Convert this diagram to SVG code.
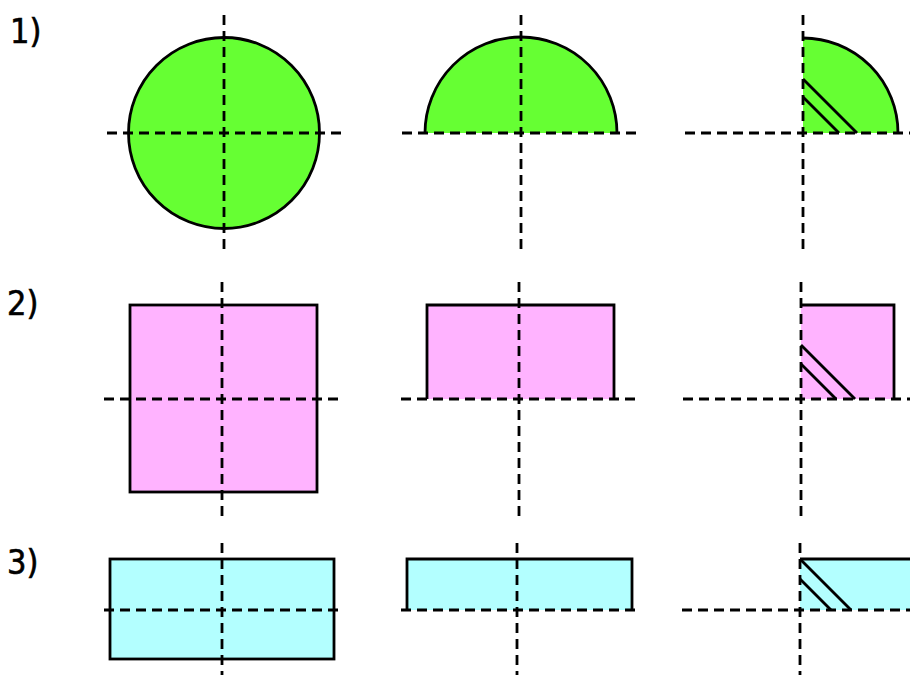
<svg xmlns="http://www.w3.org/2000/svg" width="910" height="675" viewBox="0 0 910 675">
<style>
.lbl{font-family:"DejaVu Sans Condensed","DejaVu Sans","Liberation Sans",sans-serif;font-size:34px;fill:#000;stroke:#000;stroke-width:0.6}
.ax{stroke:#000;stroke-width:2.8;stroke-dasharray:10,6;fill:none}
.ol{stroke:#000;stroke-width:2.8;fill:none}
.g{fill:#66FF33}
.p{fill:#FFB3FF}
.c{fill:#B3FFFF}
</style>
<rect width="910" height="675" fill="#fff"/>
<g id="labels">
<text class="lbl" x="10" y="43">1)</text>
<text class="lbl" x="7" y="315">2)</text>
<text class="lbl" x="7" y="574">3)</text>
</g>
<g id="shapes">
<g id="circle-full">
<circle class="g" cx="224" cy="133" r="95.5"/>
<circle class="ol" cx="224" cy="133" r="95.5"/>
</g>
<g id="circle-half">
<path class="g" d="M425,133 A96,96 0 0 1 617,133 Z"/>
<path class="ol" d="M425,133 A96,96 0 0 1 617,133"/>
</g>
<g id="circle-quarter">
<path class="g" d="M803,133 L803,38 A95,95 0 0 1 898,133 Z"/>
<path class="ol" d="M803,38 A95,95 0 0 1 898,133"/>
<line class="ol" x1="803" y1="79" x2="857" y2="133"/>
<line class="ol" x1="803" y1="97" x2="839" y2="133"/>
</g>
<g id="square-full">
<rect class="p" x="130" y="305" width="187" height="187"/>
<rect class="ol" x="130" y="305" width="187" height="187"/>
</g>
<g id="square-half">
<rect class="p" x="427" y="305" width="187" height="94"/>
<path class="ol" d="M427,399 L427,305 L614,305 L614,399"/>
</g>
<g id="square-quarter">
<rect class="p" x="801" y="305" width="93" height="94"/>
<path class="ol" d="M801,305 L894,305 L894,399"/>
<line class="ol" x1="801" y1="345" x2="855" y2="399"/>
<line class="ol" x1="801" y1="364" x2="836" y2="399"/>
</g>
<g id="rect-full">
<rect class="c" x="110" y="559" width="224" height="100"/>
<rect class="ol" x="110" y="559" width="224" height="100"/>
</g>
<g id="rect-half">
<rect class="c" x="407" y="559" width="225" height="51"/>
<path class="ol" d="M407,610 L407,559 L632,559 L632,610"/>
</g>
<g id="rect-quarter">
<rect class="c" x="800" y="559" width="115" height="51"/>
<path class="ol" d="M800,559 L915,559"/>
<line class="ol" x1="800" y1="559" x2="851" y2="610"/>
<line class="ol" x1="800" y1="579" x2="831" y2="610"/>
</g>
</g>
<g id="connectors">
<line class="ax" x1="107" y1="133" x2="341" y2="133"/>
<line class="ax" x1="224" y1="15" x2="224" y2="250"/>
<line class="ax" x1="402" y1="133" x2="638" y2="133"/>
<line class="ax" x1="521" y1="15" x2="521" y2="250"/>
<line class="ax" x1="685" y1="133" x2="910" y2="133"/>
<line class="ax" x1="803" y1="15" x2="803" y2="250"/>
<line class="ax" x1="104" y1="399" x2="339" y2="399"/>
<line class="ax" x1="222" y1="282" x2="222" y2="518"/>
<line class="ax" x1="401" y1="399" x2="637" y2="399"/>
<line class="ax" x1="519" y1="282" x2="519" y2="518"/>
<line class="ax" x1="683" y1="399" x2="910" y2="399"/>
<line class="ax" x1="801" y1="282" x2="801" y2="518"/>
<line class="ax" x1="104" y1="610" x2="339" y2="610"/>
<line class="ax" x1="222" y1="543" x2="222" y2="675"/>
<line class="ax" x1="401" y1="610" x2="636" y2="610"/>
<line class="ax" x1="517" y1="543" x2="517" y2="675"/>
<line class="ax" x1="682" y1="610" x2="910" y2="610"/>
<line class="ax" x1="800" y1="543" x2="800" y2="675"/>
</g>
</svg>
